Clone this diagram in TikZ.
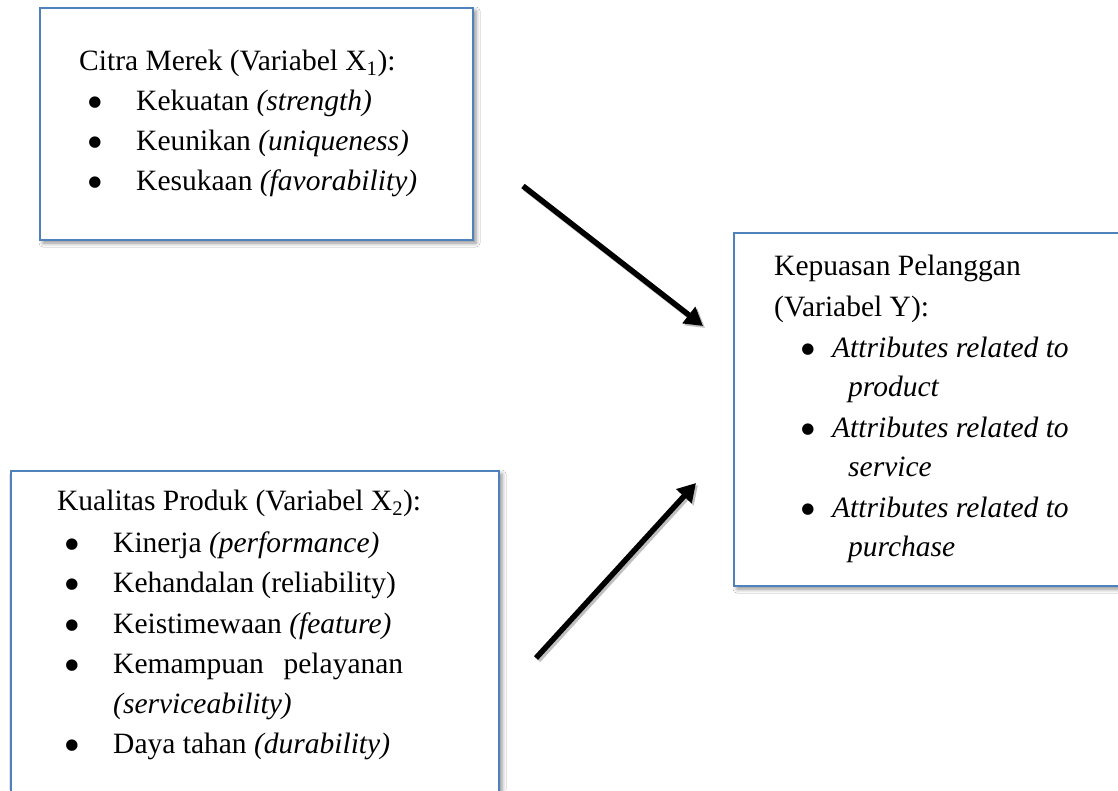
\documentclass[tikz,border=0pt]{standalone}
\usepackage{fontspec}
\setmainfont{Liberation Serif}[ItalicFont={Liberation Serif Italic},BoldFont={Liberation Serif Bold}]
\newfontfamily\symfont{DejaVu Sans}
\usetikzlibrary{shadows.blur,arrows.meta}
\definecolor{boxblue}{RGB}{79,129,189}
\tikzset{
  frame/.style={draw=boxblue, line width=2pt, fill=white, inner sep=0pt, anchor=north west,
    blur shadow={shadow xshift=3pt, shadow yshift=-3pt, shadow blur radius=4pt, shadow opacity=45}},
  txt/.style={inner sep=0pt, anchor=base west, font=\fontsize{29.5}{35}\selectfont},
  bul/.style={inner sep=0pt, anchor=base, yshift=4pt, font=\symfont\fontsize{15}{15}\selectfont},
  link/.style={line width=5.5pt, -{Triangle[length=18pt,width=20pt]},
    preaction={draw=black!25, line width=6pt, transform canvas={shift={(2pt,-2pt)}}}}
}
\newcommand{\bulletmark}{●}
\begin{document}
\begin{tikzpicture}[x=1pt,y=-1pt]
\useasboundingbox (0,0) rectangle (1118,790);
\clip (0,0) rectangle (1118,790);
\fill[white] (0,0) rectangle (1118,790);
% boxes
\node[frame, minimum width=433pt, minimum height=232pt] (b1) at (39,7) {};
\node[frame, minimum width=400pt, minimum height=353pt] (by) at (733,232) {};
\node[frame, minimum width=488pt, minimum height=340pt] (b2) at (10,470) {};
% box 1 text
\node[txt] (t1) at (79,70) {Citra Merek (Variabel X\textsubscript{1}):};
\node[bul] (p11) at (95,110) {\bulletmark};
\node[txt] (t11) at (136,110) {Kekuatan \textit{(strength)}};
\node[bul] (p12) at (95,150) {\bulletmark};
\node[txt] (t12) at (136,150) {Keunikan \textit{(uniqueness)}};
\node[bul] (p13) at (95,190) {\bulletmark};
\node[txt] (t13) at (136,190) {Kesukaan \textit{(favorability)}};
% box Y text
\node[txt] (ty1) at (774,275) {Kepuasan Pelanggan};
\node[txt] (ty2) at (774,316) {(Variabel Y):};
\node[bul] (py1) at (808,357) {\bulletmark};
\node[txt] (ty11) at (832,357) {\textit{Attributes related to}};
\node[txt] (ty12) at (848,396) {\textit{product}};
\node[bul] (py2) at (808,437) {\bulletmark};
\node[txt] (ty21) at (832,437) {\textit{Attributes related to}};
\node[txt] (ty22) at (848,476) {\textit{service}};
\node[bul] (py3) at (808,517) {\bulletmark};
\node[txt] (ty31) at (832,517) {\textit{Attributes related to}};
\node[txt] (ty32) at (848,556) {\textit{purchase}};
% box 2 text
\node[txt] (t2) at (57,510) {Kualitas Produk (Variabel X\textsubscript{2}):};
\node[bul] (p21) at (72,552) {\bulletmark};
\node[txt] (t21) at (113,552) {Kinerja \textit{(performance)}};
\node[bul] (p22) at (72,592) {\bulletmark};
\node[txt] (t22) at (113,592) {Kehandalan (reliability)};
\node[bul] (p23) at (72,633) {\bulletmark};
\node[txt] (t23) at (113,633) {Keistimewaan \textit{(feature)}};
\node[bul] (p24) at (72,673) {\bulletmark};
\node[txt] (t24) at (113,673) {\makebox[290pt][l]{Kemampuan\hfill pelayanan}};
\node[txt] (t24b) at (113,713) {\textit{(serviceability)}};
\node[bul] (p25) at (72,753) {\bulletmark};
\node[txt] (t25) at (113,753) {Daya tahan \textit{(durability)}};
% arrows
\coordinate (a1s) at (523,186);
\coordinate (a1e) at (703,326);
\coordinate (a2s) at (536,658);
\coordinate (a2e) at (696,483);
\draw[link] (a1s) -- (a1e);
\draw[link] (a2s) -- (a2e);
\end{tikzpicture}
\end{document}
